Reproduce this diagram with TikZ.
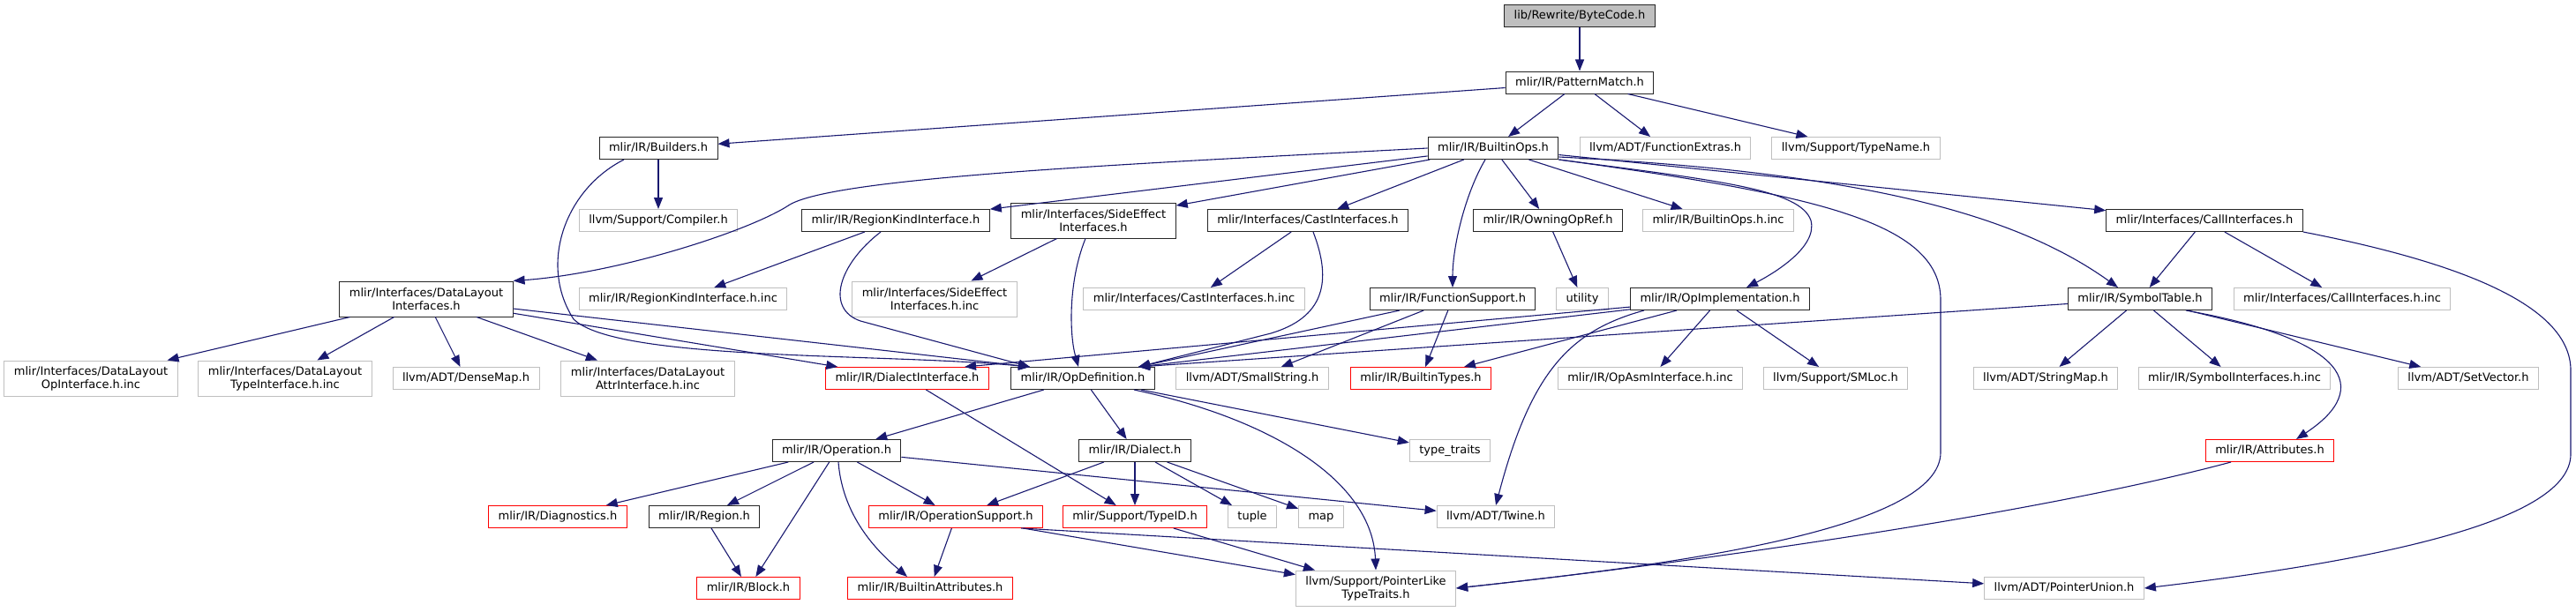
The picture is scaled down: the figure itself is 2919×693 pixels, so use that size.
\documentclass[tikz,border=0pt]{standalone}
\usepackage{fontspec}
\setmainfont{DejaVu Sans}
\usepackage{xcolor}
\usepackage{tikz}
\usetikzlibrary{
arrows.meta
}
\definecolor{edgeblue}{HTML}{191970}
\definecolor{incgray}{HTML}{BFBFBF}
\definecolor{badred}{HTML}{FF0000}

\begin{document}
\begin{tikzpicture}[
x=1pt, y=-1pt,
box/.style={
rectangle,
draw=black!85,
fill=white,
line width=1pt,
inner xsep=11pt,
inner ysep=0pt,
minimum height=25pt,
text height=10pt,
text depth=3pt,
font=\fontsize{13}{15}\selectfont
},
two/.style={align=center, text height=, text depth=, minimum height=40pt},
sysbox/.style={box, draw=incgray},
redbox/.style={box, draw=badred},
rootbox/.style={box, fill=incgray},
arrow/.style={-{Triangle[length=13pt,width=10pt]}, draw=edgeblue, line width=1.1pt}
]
\useasboundingbox (0,0) rectangle (2919,693);

\node[rootbox] (bytecode) at (1790,18.5) {lib/Rewrite/ByteCode.h};
\node[box] (pattern) at (1790,93.5) {mlir/IR/PatternMatch.h};
\node[box] (builders) at (746,168) {mlir/IR/Builders.h};
\node[box] (builtinops) at (1692,168) {mlir/IR/BuiltinOps.h};
\node[sysbox] (fnextras) at (1887,168) {llvm/ADT/FunctionExtras.h};
\node[sysbox] (typename) at (2103,168) {llvm/Support/TypeName.h};
\node[sysbox] (compiler) at (746,250) {llvm/Support/Compiler.h};
\node[box] (regionkind) at (1015,250) {mlir/IR/RegionKindInterface.h};
\node[box, two] (sideeffect) at (1239,250) {mlir/Interfaces/SideEffect\\Interfaces.h};
\node[box] (castif) at (1482,250) {mlir/Interfaces/CastInterfaces.h};
\node[box] (owning) at (1754,250) {mlir/IR/OwningOpRef.h};
\node[sysbox] (opsinc) at (1947,250) {mlir/IR/BuiltinOps.h.inc};
\node[box] (callif) at (2498,250) {mlir/Interfaces/CallInterfaces.h};
\node[box, two] (datalayout) at (483,339) {mlir/Interfaces/DataLayout\\Interfaces.h};
\node[sysbox] (regionkindinc) at (774,339) {mlir/IR/RegionKindInterface.h.inc};
\node[sysbox, two] (sideeffectinc) at (1059,339) {mlir/Interfaces/SideEffect\\Interfaces.h.inc};
\node[sysbox] (castinc) at (1353,339) {mlir/Interfaces/CastInterfaces.h.inc};
\node[box] (fnsupport) at (1646,339) {mlir/IR/FunctionSupport.h};
\node[sysbox] (utility) at (1793,339) {utility};
\node[box] (opimpl) at (1949,339) {mlir/IR/OpImplementation.h};
\node[box] (symtab) at (2425,339) {mlir/IR/SymbolTable.h};
\node[sysbox] (callinc) at (2654,339) {mlir/Interfaces/CallInterfaces.h.inc};
\node[sysbox, two] (dlopinc) at (103,429) {mlir/Interfaces/DataLayout\\OpInterface.h.inc};
\node[sysbox, two] (dltypeinc) at (323,429) {mlir/Interfaces/DataLayout\\TypeInterface.h.inc};
\node[sysbox] (densemap) at (528,429) {llvm/ADT/DenseMap.h};
\node[sysbox, two] (dlattrinc) at (734,429) {mlir/Interfaces/DataLayout\\AttrInterface.h.inc};
\node[redbox] (dialectif) at (1028,429) {mlir/IR/DialectInterface.h};
\node[box] (opdef) at (1227,429) {mlir/IR/OpDefinition.h};
\node[sysbox] (smallstr) at (1419,429) {llvm/ADT/SmallString.h};
\node[redbox] (btypes) at (1610,429) {mlir/IR/BuiltinTypes.h};
\node[sysbox] (asminc) at (1870,429) {mlir/IR/OpAsmInterface.h.inc};
\node[sysbox] (smloc) at (2080,429) {llvm/Support/SMLoc.h};
\node[sysbox] (strmap) at (2318,429) {llvm/ADT/StringMap.h};
\node[sysbox] (syminc) at (2532,429) {mlir/IR/SymbolInterfaces.h.inc};
\node[sysbox] (setvec) at (2797,429) {llvm/ADT/SetVector.h};
\node[box] (operation) at (948,511) {mlir/IR/Operation.h};
\node[box] (dialect) at (1286,511) {mlir/IR/Dialect.h};
\node[sysbox] (typetraits) at (1643,511) {type\_traits};
\node[redbox] (attrs) at (2572,511) {mlir/IR/Attributes.h};
\node[redbox] (diag) at (632,586) {mlir/IR/Diagnostics.h};
\node[box] (region) at (798,586) {mlir/IR/Region.h};
\node[redbox] (opsupport) at (1083,586) {mlir/IR/OperationSupport.h};
\node[redbox] (typeid) at (1286,586) {mlir/Support/TypeID.h};
\node[sysbox] (tuple) at (1419,586) {tuple};
\node[sysbox] (map) at (1497,586) {map};
\node[sysbox] (twine) at (1695,586) {llvm/ADT/Twine.h};
\node[redbox] (block) at (848,667) {mlir/IR/Block.h};
\node[redbox] (battrs) at (1054,667) {mlir/IR/BuiltinAttributes.h};
\node[sysbox, two] (ptrlike) at (1559,667) {llvm/Support/PointerLike\\TypeTraits.h};
\node[sysbox] (ptrunion) at (2339,667) {llvm/ADT/PointerUnion.h};

\draw[arrow] (bytecode) -- (pattern);
\draw[arrow] (pattern) -- (builders);
\draw[arrow] (pattern) -- (builtinops);
\draw[arrow] (pattern) -- (fnextras);
\draw[arrow] (pattern) -- (typename);
\draw[arrow] (builders) -- (compiler);
\draw[arrow] ([xshift=-39pt]builders.south) .. controls (640,215) and (610,300) .. (650,362) .. controls (700,410) and (1000,400) .. ([xshift=-60pt]opdef.north);
\draw[arrow] (builtinops.west) .. controls (1300,185) and (950,200) .. (895,232) .. controls (850,262) and (700,310) .. (datalayout.north east);
\draw[arrow] (builtinops) -- (regionkind);
\draw[arrow] (builtinops) -- (sideeffect);
\draw[arrow] (builtinops) -- (castif);
\draw[arrow] ([xshift=-9pt]builtinops.south) .. controls (1660,220) and (1646,280) .. (fnsupport.north);
\draw[arrow] (builtinops) -- (owning);
\draw[arrow] (builtinops) -- (opsinc);
\draw[arrow] (builtinops.south east) .. controls (1950,205) and (2040,215) .. (2052,250) .. controls (2060,280) and (2010,310) .. ([xshift=30pt]opimpl.north);
\draw[arrow] (builtinops.south east) .. controls (2050,220) and (2199,250) .. (2199,340) -- (2199,513) .. controls (2199,600) and (1900,640) .. (ptrlike.east);
\draw[arrow] ([yshift=-10pt]builtinops.east) .. controls (2100,195) and (2280,240) .. ([xshift=-25pt]symtab.north);
\draw[arrow] (builtinops) -- (callif);
\draw[arrow] (regionkind) -- (regionkindinc);
\draw[arrow] ([xshift=-17pt]regionkind.south) .. controls (950,300) and (935,350) .. (975,364) -- ([xshift=-60pt]opdef.north);
\draw[arrow] (sideeffect) -- (sideeffectinc);
\draw[arrow] ([xshift=-9pt]sideeffect.south) .. controls (1210,320) and (1212,380) .. ([xshift=-5pt]opdef.north);
\draw[arrow] (castif) -- (castinc);
\draw[arrow] ([xshift=6pt]castif.south) .. controls (1510,320) and (1500,360) .. (1440,378) -- ([xshift=63pt]opdef.north);
\draw[arrow] (owning) -- (utility);
\draw[arrow] (callif) -- (symtab);
\draw[arrow] (callif) -- (callinc);
\draw[arrow] (callif.south east) .. controls (2800,300) and (2913,350) .. (2913,420) -- (2913,515) .. controls (2913,590) and (2700,635) .. (ptrunion.east);
\draw[arrow] (datalayout) -- (dlopinc);
\draw[arrow] (datalayout) -- (dltypeinc);
\draw[arrow] (datalayout) -- (densemap);
\draw[arrow] (datalayout) -- (dlattrinc);
\draw[arrow] (datalayout) -- (dialectif);
\draw[arrow] (datalayout) -- ([xshift=-60pt]opdef.north);
\draw[arrow] (fnsupport) -- ([xshift=63pt]opdef.north);
\draw[arrow] (fnsupport) -- (smallstr);
\draw[arrow] (fnsupport) -- (btypes);
\draw[arrow] (opimpl) -- ([xshift=65pt]dialectif.north);
\draw[arrow] (opimpl) -- ([xshift=63pt]opdef.north);
\draw[arrow] (opimpl) -- (btypes);
\draw[arrow] ([xshift=-86pt]opimpl.south) .. controls (1780,375) and (1735,420) .. (twine.north);
\draw[arrow] (opimpl) -- (asminc);
\draw[arrow] (opimpl) -- (smloc);
\draw[arrow] (symtab) -- ([xshift=63pt]opdef.north);
\draw[arrow] (symtab) -- (strmap);
\draw[arrow] (symtab) -- (syminc);
\draw[arrow] (symtab) -- (setvec);
\draw[arrow] ([xshift=52pt]symtab.south) .. controls (2660,385) and (2690,440) .. ([xshift=30pt]attrs.north);
\draw[arrow] (opdef) -- (operation);
\draw[arrow] (opdef) -- (dialect);
\draw[arrow] (opdef) -- (typetraits);
\draw[arrow] ([xshift=58pt]opdef.south) .. controls (1440,475) and (1555,545) .. (ptrlike.north);
\draw[arrow] (dialectif) -- (typeid);
\draw[arrow] (dialect) -- (opsupport);
\draw[arrow] (dialect) -- (typeid);
\draw[arrow] (dialect) -- (tuple);
\draw[arrow] (dialect) -- (map);
\draw[arrow] (operation) -- (diag);
\draw[arrow] (operation) -- (region);
\draw[arrow] (operation) -- (block);
\draw[arrow] ([xshift=2pt]operation.south) .. controls (955,590) and (1000,630) .. ([xshift=-26pt]battrs.north);
\draw[arrow] (operation) -- (opsupport);
\draw[arrow] (operation) -- (twine);
\draw[arrow] (region) -- (block);
\draw[arrow] (opsupport) -- (battrs);
\draw[arrow] (opsupport) -- (ptrlike);
\draw[arrow] ([xshift=74pt]opsupport.south) -- (ptrunion);
\draw[arrow] (typeid) -- (ptrlike);
\draw[arrow] ([xshift=-44pt]attrs.south) .. controls (2300,585) and (1900,640) .. (ptrlike.east);

\end{tikzpicture}
\end{document}
